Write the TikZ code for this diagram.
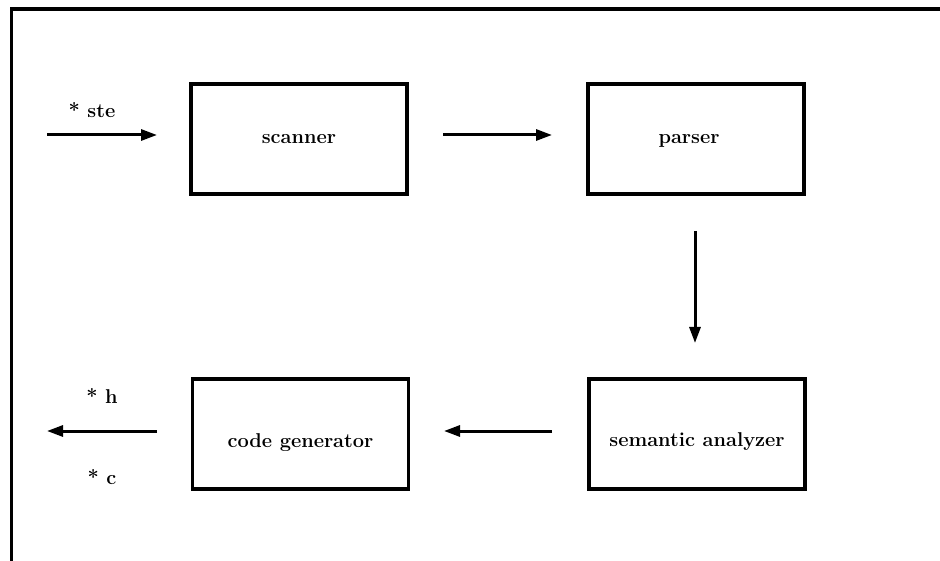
\documentclass[tikz,border=0pt]{standalone}
\usetikzlibrary{arrows.meta}
\newcommand{\lowered}[2]{\raisebox{-#1}[0pt][0pt]{#2}}
\begin{document}
\begin{tikzpicture}[x=1pt,y=-1pt,
  lbl/.style={font=\fontsize{20}{23}\selectfont\bfseries},
  stagebox/.style={draw,line width=3.2pt,minimum width=216pt,minimum height=110pt,inner sep=0pt,
                   font=\fontsize{20}{23}\selectfont\bfseries},
  flow/.style={line width=3pt,-{Triangle[length=16pt,width=11pt]}}]
\useasboundingbox (0,0) rectangle (940,561);
% frame
\coordinate (fbl) at (11.5,561);
\coordinate (ftl) at (11.5,9);
\coordinate (ftr) at (940,9);
\draw[line width=3.2pt] (fbl) -- (ftl) -- (ftr);
% stages
\node[stagebox] (scan) at (299,139) {\lowered{5pt}{scanner}};
\node[stagebox] (pars) at (696,139) {\hspace*{-14pt}\lowered{5pt}{parser}};
\node[stagebox] (sema) at (697,434) {\lowered{12pt}{semantic analyzer}};
\node[stagebox] (code) at (300.5,434) {\lowered{13pt}{code generator}};
% input / output ends
\coordinate (in0) at (47,135);
\coordinate (in1) at (157,135);
\coordinate (out0) at (157,431);
\coordinate (out1) at (47,431);
\coordinate (sp0) at (443,135);
\coordinate (sp1) at (552,135);
\coordinate (ps0) at (695,231);
\coordinate (ps1) at (695,343);
\coordinate (sc0) at (552,431);
\coordinate (sc1) at (444,431);
\draw[flow] (in0) -- (in1);
\draw[flow] (sp0) -- (sp1);
\draw[flow] (ps0) -- (ps1);
\draw[flow] (sc0) -- (sc1);
\draw[flow] (out0) -- (out1);
% labels
\node[lbl,anchor=base] (ste) at (92,118) {* ste};
\node[lbl,anchor=base] (hh) at (102,403) {* h};
\node[lbl,anchor=base] (cc) at (102,484) {* c};
\end{tikzpicture}
\end{document}
